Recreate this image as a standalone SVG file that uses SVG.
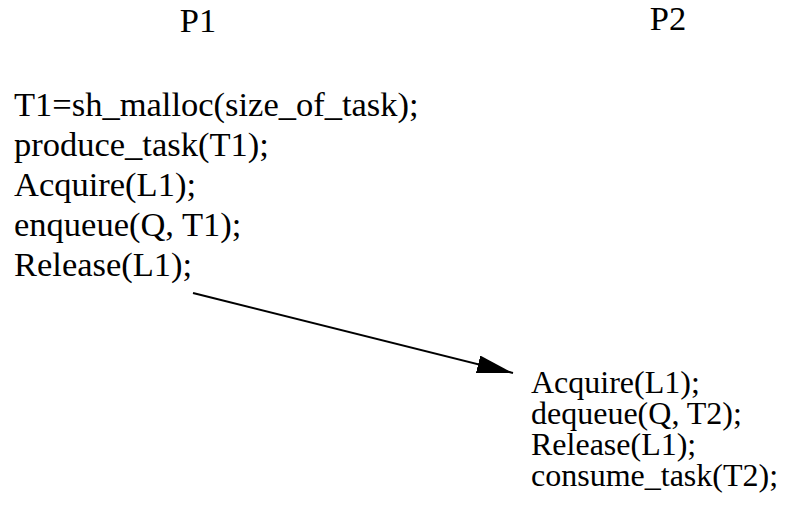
<svg xmlns="http://www.w3.org/2000/svg" width="798" height="514" viewBox="0 0 798 514">
<style>
text{font-family:"Liberation Serif","Times New Roman",serif;fill:#000}
.l{font-size:34.5px}
.r{font-size:32px}
</style>
<defs>
<marker id="ah" markerUnits="userSpaceOnUse" markerWidth="40" markerHeight="20" refX="36" refY="9" orient="auto">
<path d="M0,0 L36,9 L0,18 Z" fill="#000"/>
</marker>
</defs>
<rect width="798" height="514" fill="#fff"/>
<g id="p1"><text class="l" x="198" y="32" text-anchor="middle">P1</text></g>
<g id="p2"><text class="l" x="668" y="30" text-anchor="middle">P2</text></g>
<g id="p1code" class="l">
<text x="14" y="116">T1=sh_malloc(size_of_task);</text>
<text x="14" y="156">produce_task(T1);</text>
<text x="14" y="196">Acquire(L1);</text>
<text x="14" y="236">enqueue(Q, T1);</text>
<text x="14" y="276">Release(L1);</text>
</g>
<g id="p2code" class="r">
<text x="531" y="393">Acquire(L1);</text>
<text x="531" y="424">dequeue(Q, T2);</text>
<text x="531" y="455">Release(L1);</text>
<text x="531" y="486">consume_task(T2);</text>
</g>
<g id="connectors">
<line x1="193" y1="293" x2="513" y2="373" stroke="#000" stroke-width="2" marker-end="url(#ah)"/>
</g>
</svg>
